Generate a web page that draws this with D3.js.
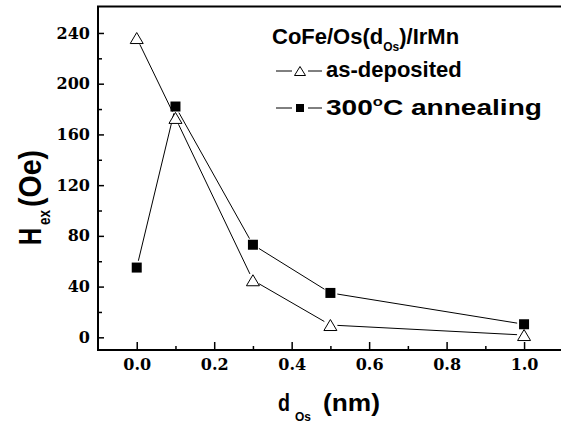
<!DOCTYPE html>
<html><head><meta charset="utf-8">
<script src="https://cdn.jsdelivr.net/npm/d3@7"></script>
<style>body{margin:0;background:#fff}svg{display:block}</style>
</head><body>
<script>
const xValues = [0, 0.1, 0.3, 0.5, 1.0];
const asDeposited = [236, 173, 45, 9.7, 1.8];
const annealed = [55, 182, 73, 35, 10.3];
const yTicks = [0, 40, 80, 120, 160, 200, 240];
const yMinorTicks = [20, 60, 100, 140, 180, 220];
const xTicks = [0, 0.2, 0.4, 0.6, 0.8, 1.0];
const xMinorTicks = [0.1, 0.3, 0.5, 0.7, 0.9];
const xTickLabels = ["0.0", "0.2", "0.4", "0.6", "0.8", "1.0"];

const W = 561, H = 424;
const svg = d3.select("body").append("svg").attr("width", W).attr("height", H);
const x = d3.scaleLinear().domain([-0.1, 1.1]).range([98, 562.8]);
const y = d3.scaleLinear().domain([-10, 260]).range([350, 7.6]);

const fontSerif = "'DejaVu Serif', serif";
const ay = svg.append("g").attr("transform", "translate(98,0)")
  .call(d3.axisLeft(y).tickValues(yTicks).tickSize(-6).tickPadding(8).tickFormat(d3.format("d")));
const ayMin = svg.append("g").attr("transform", "translate(98,0)")
  .call(d3.axisLeft(y).tickValues(yMinorTicks).tickSize(-4).tickFormat(""));
const ax = svg.append("g").attr("transform", "translate(0,350)")
  .call(d3.axisBottom(x).tickValues(xTicks).tickSize(-8).tickPadding(9).tickFormat((d, i) => xTickLabels[i]));
const axMin = svg.append("g").attr("transform", "translate(0,350)")
  .call(d3.axisBottom(x).tickValues(xMinorTicks).tickSize(-4).tickFormat(""));
[ay, ayMin, ax, axMin].forEach(g => {
  g.select(".domain").remove();
  g.selectAll(".tick line").attr("stroke", "#000").attr("stroke-width", 1.5);
  g.selectAll("text").attr("font-family", fontSerif).attr("font-weight", "bold").attr("font-size", 16).attr("fill", "#000");
});

svg.append("line").attr("x1", 97).attr("x2", W).attr("y1", 6.5).attr("y2", 6.5).attr("stroke", "#000").attr("stroke-width", 2);
svg.append("line").attr("x1", 98).attr("x2", 98).attr("y1", 6).attr("y2", 351).attr("stroke", "#000").attr("stroke-width", 2);
svg.append("line").attr("x1", 97).attr("x2", W).attr("y1", 350).attr("y2", 350).attr("stroke", "#000").attr("stroke-width", 2);

function drawSeries(vals) {
  const pts = xValues.map((d, i) => [x(d), y(vals[i])]);
  const gap = 7;
  for (let i = 0; i < pts.length - 1; i++) {
    const [x1, y1] = pts[i], [x2, y2] = pts[i + 1];
    const dx = x2 - x1, dy = y2 - y1, L = Math.hypot(dx, dy);
    const ux = dx / L, uy = dy / L;
    svg.append("line")
      .attr("x1", x1 + ux * gap).attr("y1", y1 + uy * gap)
      .attr("x2", x2 - ux * gap).attr("y2", y2 - uy * gap)
      .attr("stroke", "#000").attr("stroke-width", 1);
  }
  return pts;
}
const triPath = (cx, cy, w, h) => `M${cx - w / 2},${cy + h / 2}L${cx + w / 2},${cy + h / 2}L${cx},${cy - h / 2}Z`;

const p1 = drawSeries(asDeposited);
const p2 = drawSeries(annealed);
svg.selectAll(".tri").data(p1).enter().append("path")
  .attr("d", d => triPath(d[0], d[1], 13, 11)).attr("fill", "#fff").attr("stroke", "#000").attr("stroke-width", 1);
svg.selectAll(".sq").data(p2).enter().append("rect")
  .attr("x", d => d[0] - 5).attr("y", d => d[1] - 5).attr("width", 10).attr("height", 10).attr("fill", "#000");

const fontSans = "'Liberation Sans', Arial, sans-serif";
function fitText(str, px, py, size, width) {
  const t = svg.append("text").attr("font-family", fontSans).attr("font-weight", "bold")
    .attr("font-size", size).attr("fill", "#000").text(str);
  const w = t.node().getComputedTextLength();
  t.attr("transform", `translate(${px},${py}) scale(${width / w},1)`);
  return t;
}
function fitTextV(str, px, py, size, len, stretch) {
  const t = svg.append("text").attr("font-family", fontSans).attr("font-weight", "bold")
    .attr("font-size", size).attr("fill", "#000").text(str);
  const w = t.node().getComputedTextLength();
  t.attr("transform", `translate(${px},${py}) rotate(-90) scale(${len / w},${stretch})`);
  return t;
}
function plain(str, px, py, size) {
  return svg.append("text").attr("font-family", fontSans).attr("font-weight", "bold")
    .attr("font-size", size).attr("fill", "#000").attr("x", px).attr("y", py).text(str);
}

// x title
fitText("d", 278, 411, 23, 12);
fitText("Os", 295, 421, 12, 16);
fitText("(nm)", 323, 411, 23, 57);

// y title
fitTextV("H", 41, 245, 22, 17, 1.4);
fitTextV("ex", 50, 225, 12, 15, 1.4);
fitTextV("(Oe)", 41, 207, 22, 57, 1.4);

// legend
const lt = svg.append("text").attr("font-family", fontSans).attr("font-weight", "bold")
  .attr("font-size", 22).attr("fill", "#000").attr("x", 272).attr("y", 44);
lt.append("tspan").text("CoFe/Os(d");
lt.append("tspan").attr("font-size", 12).attr("dy", 7).text("Os");
lt.append("tspan").attr("dy", -7).text(")/IrMn");

const ly = [71, 108];
ly.forEach(yy => {
  svg.append("line").attr("x1", 276).attr("x2", 292).attr("y1", yy).attr("y2", yy).attr("stroke", "#000").attr("stroke-width", 1);
  svg.append("line").attr("x1", 308).attr("x2", 322).attr("y1", yy).attr("y2", yy).attr("stroke", "#000").attr("stroke-width", 1);
});
svg.append("path").attr("d", triPath(300, 71, 11, 9)).attr("fill", "#fff").attr("stroke", "#000").attr("stroke-width", 1);
svg.append("rect").attr("x", 296).attr("y", 104).attr("width", 8).attr("height", 8).attr("fill", "#000");
plain("as-deposited", 326, 77, 22);
const t3 = svg.append("text").attr("font-family", fontSans).attr("font-weight", "bold")
  .attr("font-size", 22).attr("fill", "#000");
t3.append("tspan").text("300");
t3.append("tspan").attr("font-size", 13).attr("dy", -9).text("o");
t3.append("tspan").attr("dy", 9).text("C annealing");
const w3 = t3.node().getComputedTextLength();
t3.attr("transform", `translate(326,115) scale(${216 / w3},1)`);
</script>
</body></html>
